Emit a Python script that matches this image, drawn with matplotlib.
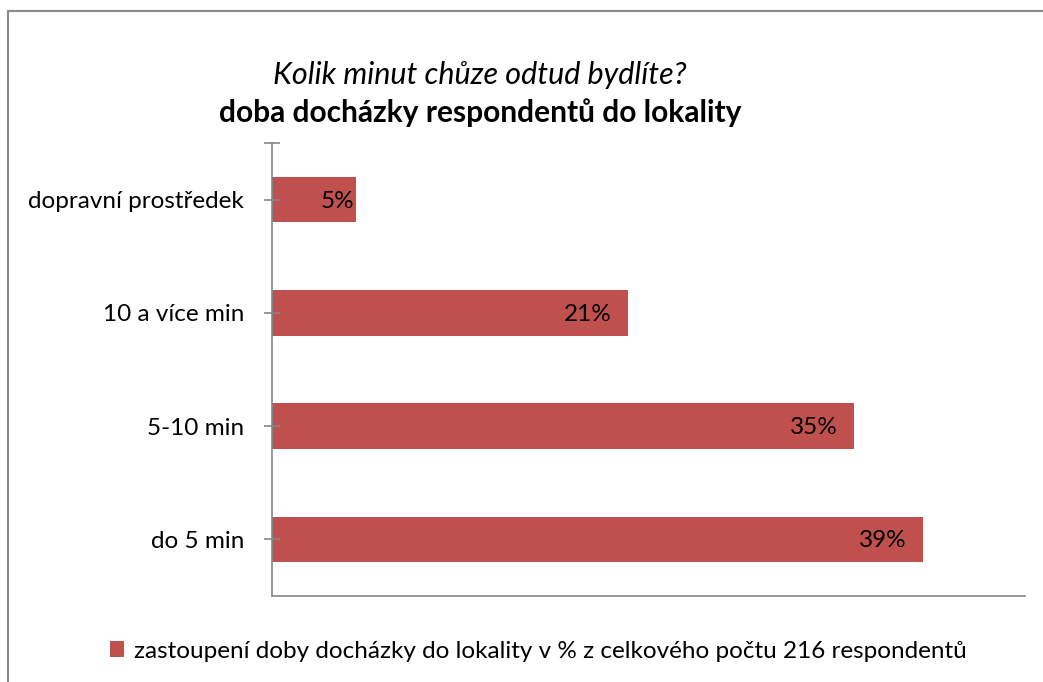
import matplotlib
matplotlib.use("Agg")
import matplotlib.pyplot as plt
from matplotlib.patches import Rectangle

categories = ["do 5 min", "5-10 min", "10 a více min", "dopravní prostředek"]
values = [38.9, 34.8, 21.3, 5.0]
labels = ["39%", "35%", "21%", "5%"]
legend_label = "zastoupení doby docházky do lokality v % z celkového počtu 216 respondentů"
title1 = "Kolik minut chůze odtud bydlíte?"
title2 = "doba docházky respondentů do lokality"

plt.rcParams['font.family'] = ['Lato', 'DejaVu Sans']
bar_color = "#C0504D"
axis_color = "#868686"

fig = plt.figure(figsize=(10.43, 6.82), dpi=100)
fig.patches.append(Rectangle((8/1043, -0.1), 1.2, 1 - 11/682 + 0.1, transform=fig.transFigure,
                             fill=False, edgecolor="#898989", linewidth=1.5))
ax = fig.add_axes([272/1043, 86/682, (1025-272)/1043, (596-143)/682])

y = list(range(len(categories)))
bars = ax.barh(y, values, height=0.4, color=bar_color, label=legend_label)
for yi, v, lab in zip(y, values, labels):
    off = -12 if v > 10 else -1
    ax.annotate(lab, (v, yi), xytext=(off, -1), textcoords="offset points",
                ha="right", va="center", fontsize=17.5, color="black")

ax.set_xlim(0, 45)
ax.set_ylim(-0.5, 3.5)
ax.set_yticks(y)
ax.set_yticklabels(categories, fontsize=17.5)
ax.set_yticks([3.5], minor=True)
ax.tick_params(axis="y", which="major", direction="inout", length=12, width=1.2, color=axis_color, pad=14)
ax.tick_params(axis="y", which="minor", direction="inout", length=12, width=1.2, color=axis_color)
ax.set_xticks([])
for s in ["top", "right"]:
    ax.spines[s].set_visible(False)
for s in ["left", "bottom"]:
    ax.spines[s].set_color(axis_color)
    ax.spines[s].set_linewidth(1.2)

fig.text(480/1043, 1 - 75/682, title1, ha="center", va="center", fontsize=22, style="italic")
fig.text(480/1043, 1 - 113/682, title2, ha="center", va="center", fontsize=21.5, weight="bold")

fig.legend(handles=[bars], labels=[legend_label], loc="center left", bbox_to_anchor=(88/1043, 1 - 651/682),
           frameon=False, fontsize=17.5, handlelength=0.6, handleheight=0.6, handletextpad=0.4)

fig.savefig("out.png", dpi=100)
